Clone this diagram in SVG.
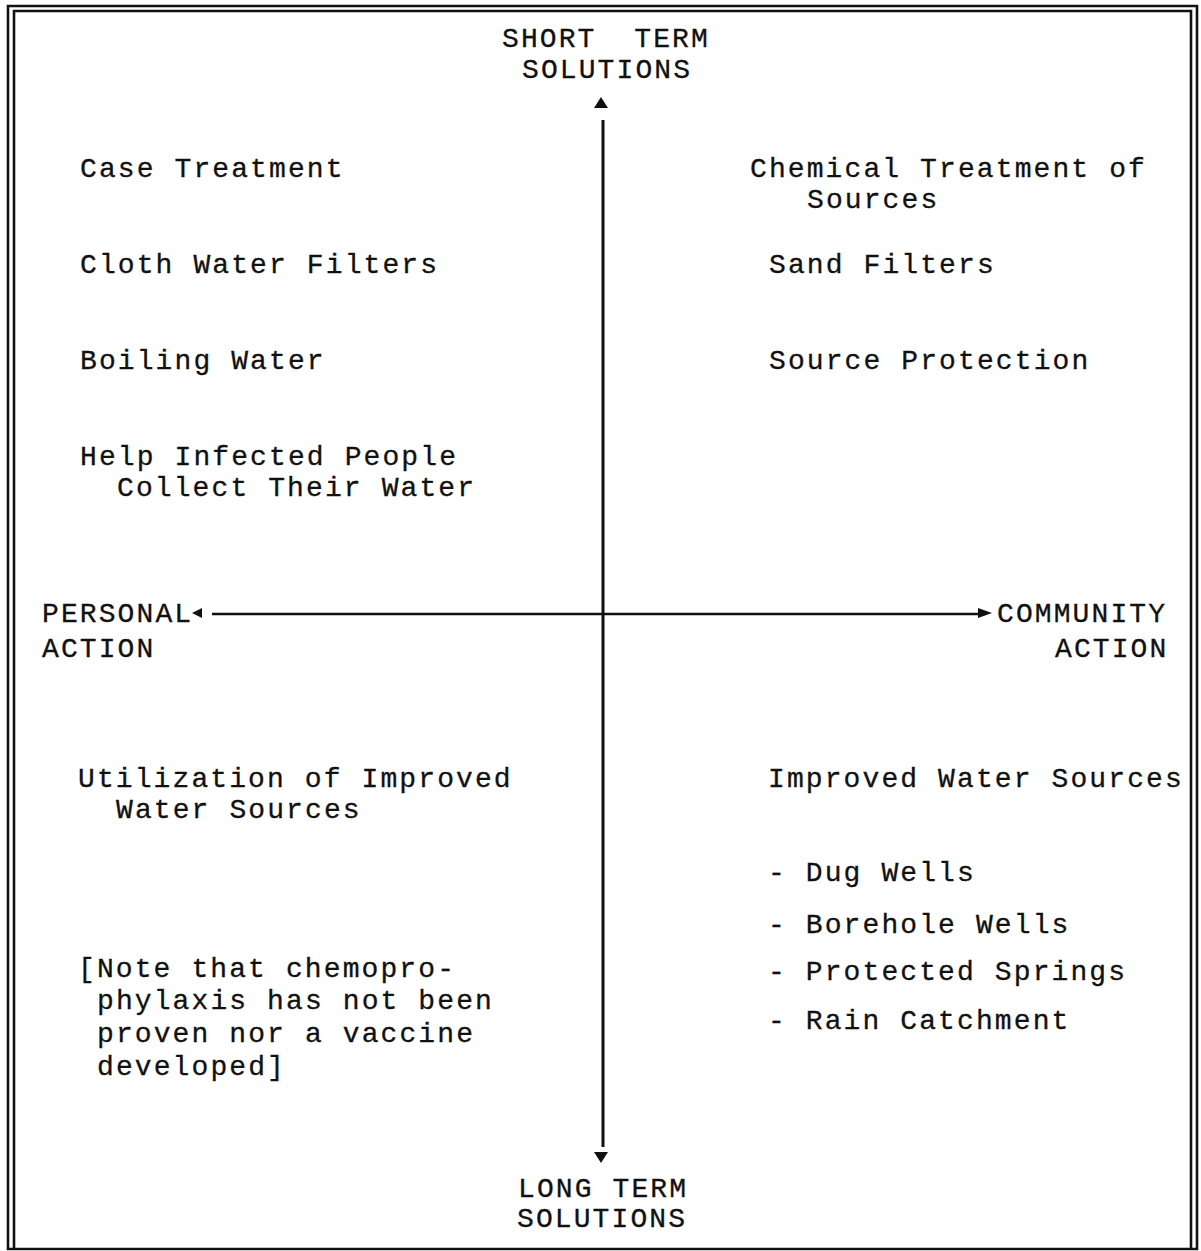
<svg xmlns="http://www.w3.org/2000/svg" width="1201" height="1251" viewBox="0 0 1201 1251">
<style>
text{font-family:"Liberation Mono","DejaVu Sans Mono",monospace;font-size:28px;letter-spacing:2.1px;fill:#111;stroke:#111;stroke-width:0.3px;}
.frame{fill:none;stroke:#111;stroke-width:2.6;}
.axis{fill:none;stroke:#111;}
.head{fill:#111;stroke:none;}
</style>
<rect width="1201" height="1251" fill="#fff"/>
<g id="frame">
<path class="frame" d="M8,1249 V6 H1197 V1249 Z"/>
<path class="frame" d="M14,1249 V11 H1191 V1249"/>
</g>
<g id="connectors">
<line class="axis" x1="603" y1="120" x2="603" y2="1147" stroke-width="3"/>
<polygon class="head" points="601,97 594,108 608,108"/>
<polygon class="head" points="601,1163 594,1152 608,1152"/>
<line class="axis" x1="212" y1="614" x2="982" y2="614" stroke-width="2.4"/>
<polygon class="head" points="192,613 202,608 202,618"/>
<polygon class="head" points="992,613 978,608 978,618"/>
</g>
<g id="short-term">
<text x="502" y="47" xml:space="preserve">SHORT  TERM</text>
<text x="522" y="78">SOLUTIONS</text>
</g>
<g id="long-term">
<text x="518" y="1197">LONG TERM</text>
<text x="517" y="1227">SOLUTIONS</text>
</g>
<g id="personal-action">
<text x="42" y="622">PERSONAL</text>
<text x="42" y="657">ACTION</text>
</g>
<g id="community-action">
<text x="997" y="622">COMMUNITY</text>
<text x="1055" y="657">ACTION</text>
</g>
<g id="short-personal">
<text x="80" y="177">Case Treatment</text>
<text x="80" y="273">Cloth Water Filters</text>
<text x="80" y="369">Boiling Water</text>
<text x="80" y="465">Help Infected People</text>
<text x="117" y="496">Collect Their Water</text>
</g>
<g id="short-community">
<text x="750" y="177">Chemical Treatment of</text>
<text x="807" y="208">Sources</text>
<text x="769" y="273">Sand Filters</text>
<text x="769" y="369">Source Protection</text>
</g>
<g id="long-personal">
<text x="78" y="787">Utilization of Improved</text>
<text x="116" y="818">Water Sources</text>
<text x="78" y="977">[Note that chemopro-</text>
<text x="97" y="1009">phylaxis has not been</text>
<text x="97" y="1042">proven nor a vaccine</text>
<text x="97" y="1075">developed]</text>
</g>
<g id="long-community">
<text x="768" y="787">Improved Water Sources</text>
<text x="768" y="881">- Dug Wells</text>
<text x="768" y="933">- Borehole Wells</text>
<text x="768" y="980">- Protected Springs</text>
<text x="768" y="1029">- Rain Catchment</text>
</g>
</svg>
